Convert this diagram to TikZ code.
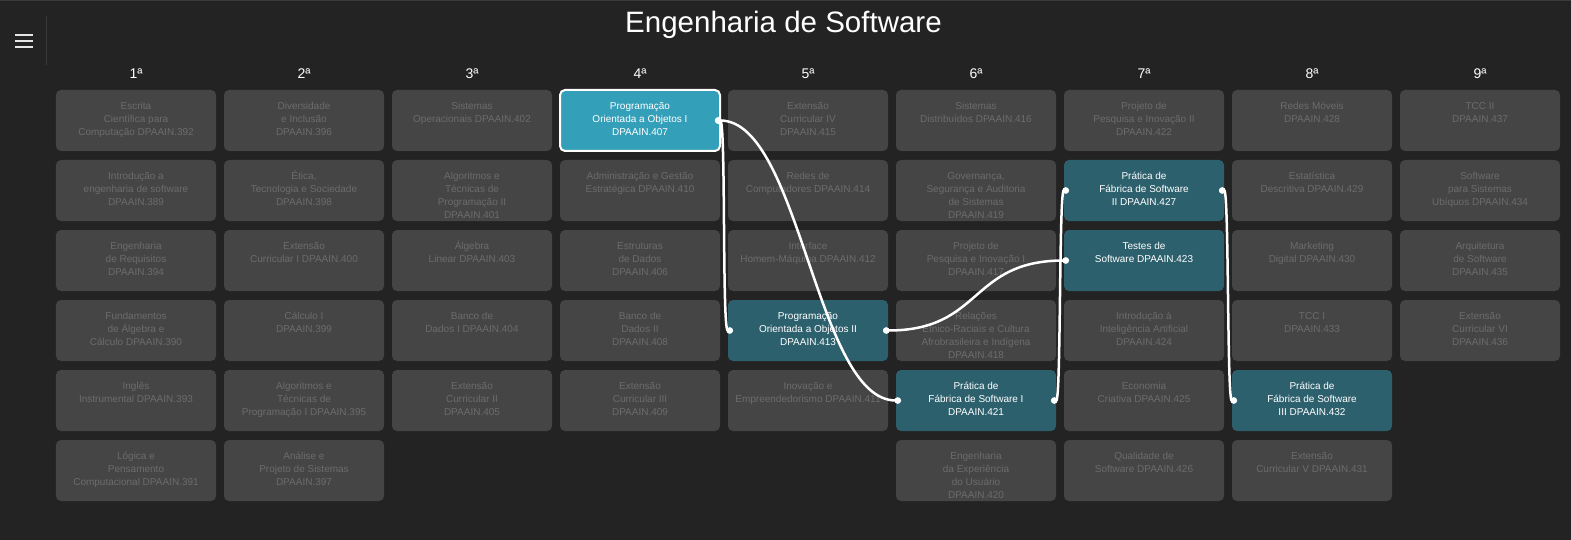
\documentclass[tikz,border=0pt]{standalone}
\usepackage{fontspec}
\setmainfont{Liberation Sans}
\usepackage{tikz}
\usetikzlibrary{positioning,arrows.meta}

\definecolor{fundo}{HTML}{232323}
\definecolor{cartao}{HTML}{454545}
\definecolor{textocartao}{HTML}{6C6C6C}
\definecolor{corcursando}{HTML}{2D606D}
\definecolor{corselecao}{HTML}{349FB8}
\definecolor{divisor}{HTML}{3A3A3A}

\begin{document}
\begin{tikzpicture}[x=1bp, y=-1bp, node distance=9bp, auto]

\tikzstyle{disciplina}=[rectangle, rounded corners=5bp, fill=cartao, text=textocartao, minimum width=160bp, minimum height=61bp, inner sep=0pt, outer sep=0pt, font=\fontsize{10bp}{13bp}\selectfont, execute at begin node={\begin{minipage}[t][41bp][t]{158bp}\centering\strut}, execute at end node={\end{minipage}}]
\tikzstyle{cursando}=[disciplina, fill=corcursando, text=white]
\tikzstyle{selecionada}=[disciplina, fill=corselecao, text=white, draw=white, line width=2bp]
\tikzstyle{semestre}=[anchor=base, text=white, font=\fontsize{14bp}{16bp}\selectfont]
\tikzstyle{titulo}=[anchor=base, text=white, font=\fontsize{29.5bp}{34bp}\selectfont]
\tikzstyle{ligacao}=[{Circle[length=6.5bp]}-{Circle[length=6.5bp]}, draw=white, line width=2.5bp, shorten <=-5bp, shorten >=-5bp, out=0, in=180]

\useasboundingbox[fill=fundo] (0,0) rectangle (1571,540);
\draw[divisor, line width=1.5bp] (0,0.75) -- (1571,0.75);

% menu
\draw[white!90!black, line width=1.8bp] (15,35) -- (33,35);
\draw[white!90!black, line width=1.8bp] (15,41) -- (33,41);
\draw[white!90!black, line width=1.8bp] (15,47) -- (33,47);
\draw[divisor, line width=1bp] (46.5,16) -- (46.5,65);

\node[titulo] (titulo) at (783.5,33) {Engenharia de Software};

\node[semestre] (s1) at (136,79) {1ª};
\node[semestre] (s2) at (304,79) {2ª};
\node[semestre] (s3) at (472,79) {3ª};
\node[semestre] (s4) at (640,79) {4ª};
\node[semestre] (s5) at (808,79) {5ª};
\node[semestre] (s6) at (976,79) {6ª};
\node[semestre] (s7) at (1144,79) {7ª};
\node[semestre] (s8) at (1312,79) {8ª};
\node[semestre] (s9) at (1480,79) {9ª};

% 1
\node[disciplina] (c392) at (136,120.5) {Escrita\\Científica para\\Computação DPAAIN.392};
\node[disciplina, below=of c392] (c389) {Introdução a\\engenharia de software\\DPAAIN.389};
\node[disciplina, below=of c389] (c394) {Engenharia\\de Requisitos\\DPAAIN.394};
\node[disciplina, below=of c394] (c390) {Fundamentos\\de Álgebra e\\Cálculo DPAAIN.390};
\node[disciplina, below=of c390] (c393) {Inglês\\Instrumental DPAAIN.393};
\node[disciplina, below=of c393] (c391) {Lógica e\\Pensamento\\Computacional DPAAIN.391};

% 2
\node[disciplina] (c396) at (304,120.5) {Diversidade\\e Inclusão\\DPAAIN.396};
\node[disciplina, below=of c396] (c398) {Ética,\\Tecnologia e Sociedade\\DPAAIN.398};
\node[disciplina, below=of c398] (c400) {Extensão\\Curricular I DPAAIN.400};
\node[disciplina, below=of c400] (c399) {Cálculo I\\DPAAIN.399};
\node[disciplina, below=of c399] (c395) {Algoritmos e\\Técnicas de\\Programação I DPAAIN.395};
\node[disciplina, below=of c395] (c397) {Análise e\\Projeto de Sistemas\\DPAAIN.397};

% 3
\node[disciplina] (c402) at (472,120.5) {Sistemas\\Operacionais DPAAIN.402};
\node[disciplina, below=of c402] (c401) {Algoritmos e\\Técnicas de\\Programação II\\DPAAIN.401};
\node[disciplina, below=of c401] (c403) {Álgebra\\Linear DPAAIN.403};
\node[disciplina, below=of c403] (c404) {Banco de\\Dados I DPAAIN.404};
\node[disciplina, below=of c404] (c405) {Extensão\\Curricular II\\DPAAIN.405};

% 4
\node[selecionada] (c407) at (640,120.5) {Programação\\Orientada a Objetos I\\DPAAIN.407};
\node[disciplina, below=of c407] (c410) {Administração e Gestão\\Estratégica DPAAIN.410};
\node[disciplina, below=of c410] (c406) {Estruturas\\de Dados\\DPAAIN.406};
\node[disciplina, below=of c406] (c408) {Banco de\\Dados II\\DPAAIN.408};
\node[disciplina, below=of c408] (c409) {Extensão\\Curricular III\\DPAAIN.409};

% 5
\node[disciplina] (c415) at (808,120.5) {Extensão\\Curricular IV\\DPAAIN.415};
\node[disciplina, below=of c415] (c414) {Redes de\\Computadores DPAAIN.414};
\node[disciplina, below=of c414] (c412) {Interface\\Homem-Máquina DPAAIN.412};
\node[cursando, below=of c412] (c413) {Programação\\Orientada a Objetos II\\DPAAIN.413};
\node[disciplina, below=of c413] (c411) {Inovação e\\Empreendedorismo DPAAIN.411};

% 6
\node[disciplina] (c416) at (976,120.5) {Sistemas\\Distribuídos DPAAIN.416};
\node[disciplina, below=of c416] (c419) {Governança,\\Segurança e Auditoria\\de Sistemas\\DPAAIN.419};
\node[disciplina, below=of c419] (c417) {Projeto de\\Pesquisa e Inovação I\\DPAAIN.417};
\node[disciplina, below=of c417] (c418) {Relações\\Étnico-Raciais e Cultura\\Afrobrasileira e Indígena\\DPAAIN.418};
\node[cursando, below=of c418] (c421) {Prática de\\Fábrica de Software I\\DPAAIN.421};
\node[disciplina, below=of c421] (c420) {Engenharia\\da Experiência\\do Usuário\\DPAAIN.420};

% 7
\node[disciplina] (c422) at (1144,120.5) {Projeto de\\Pesquisa e Inovação II\\DPAAIN.422};
\node[cursando, below=of c422] (c427) {Prática de\\Fábrica de Software\\II DPAAIN.427};
\node[cursando, below=of c427] (c423) {Testes de\\Software DPAAIN.423};
\node[disciplina, below=of c423] (c424) {Introdução à\\Inteligência Artificial\\DPAAIN.424};
\node[disciplina, below=of c424] (c425) {Economia\\Criativa DPAAIN.425};
\node[disciplina, below=of c425] (c426) {Qualidade de\\Software DPAAIN.426};

% 8
\node[disciplina] (c428) at (1312,120.5) {Redes Móveis\\DPAAIN.428};
\node[disciplina, below=of c428] (c429) {Estatística\\Descritiva DPAAIN.429};
\node[disciplina, below=of c429] (c430) {Marketing\\Digital DPAAIN.430};
\node[disciplina, below=of c430] (c433) {TCC I\\DPAAIN.433};
\node[cursando, below=of c433] (c432) {Prática de\\Fábrica de Software\\III DPAAIN.432};
\node[disciplina, below=of c432] (c431) {Extensão\\Curricular V DPAAIN.431};

% 9
\node[disciplina] (c437) at (1480,120.5) {TCC II\\DPAAIN.437};
\node[disciplina, below=of c437] (c434) {Software\\para Sistemas\\Ubíquos DPAAIN.434};
\node[disciplina, below=of c434] (c435) {Arquitetura\\de Software\\DPAAIN.435};
\node[disciplina, below=of c435] (c436) {Extensão\\Curricular VI\\DPAAIN.436};

\draw[ligacao, distance=6bp] (c407.east) to (c413.west);
\draw[ligacao, distance=80bp] (c407.east) to (c421.west);
\draw[ligacao, distance=95bp] (c413.east) to (c423.west);
\draw[ligacao, distance=5bp] (c421.east) to (c427.west);
\draw[ligacao, distance=5bp] (c427.east) to (c432.west);

\end{tikzpicture}
\end{document}
